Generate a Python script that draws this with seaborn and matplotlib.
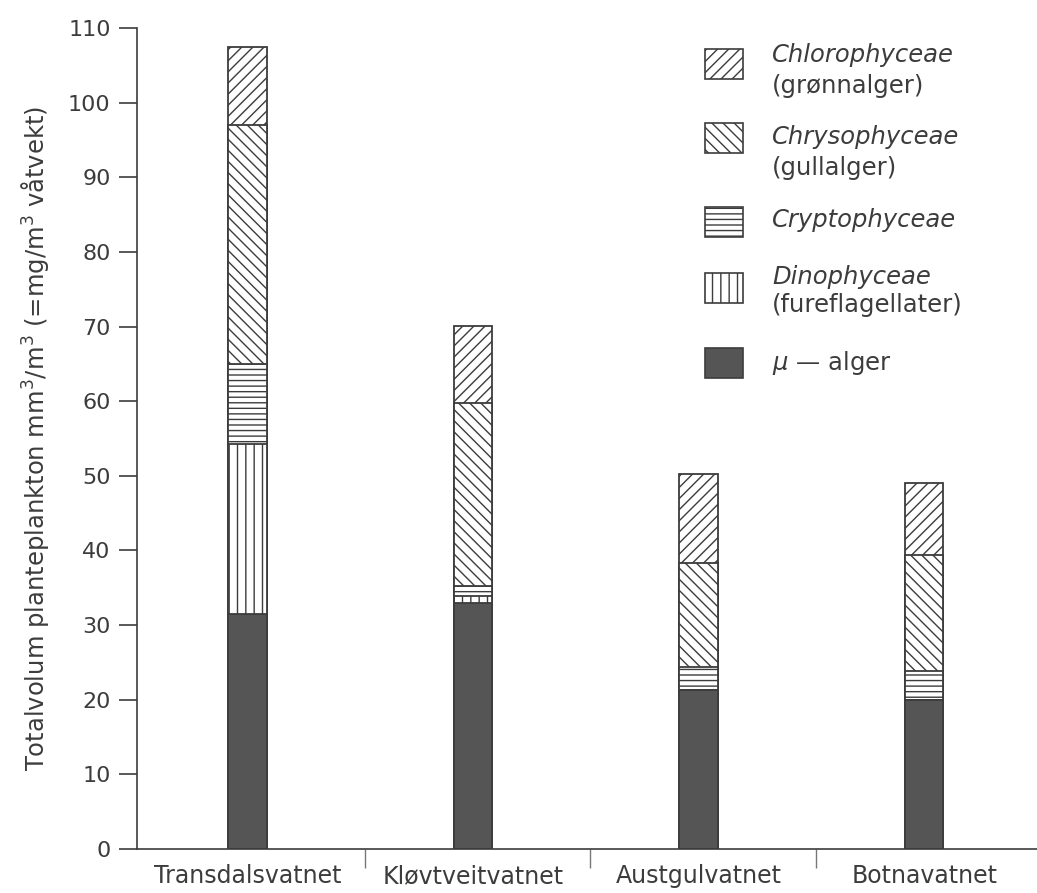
import numpy as np
import matplotlib
matplotlib.use("Agg")
import matplotlib.pyplot as plt
import matplotlib.patches as mpatches
import pandas as pd
import seaborn as sns

# data (mm3/m3)
lakes = ["Transdalsvatnet", "Kløvtveitvatnet", "Austgulvatnet", "Botnavatnet"]
mu_alger = [31.5, 32.9, 21.3, 19.9]
dinophyceae = [22.8, 1.0, 0.0, 0.0]
cryptophyceae = [10.7, 1.3, 3.1, 3.9]
chrysophyceae = [32.0, 24.5, 13.9, 15.6]
chlorophyceae = [10.4, 10.4, 11.9, 9.6]

yticks = list(range(0, 111, 10))

sns.set_style("ticks")
plt.rcParams['font.family'] = ['DejaVu Sans']
plt.rcParams['mathtext.fontset'] = 'dejavusans'
plt.rcParams['hatch.linewidth'] = 1.0

ink = "#3c3c3c"

fig = plt.figure(figsize=(10.37, 8.93), dpi=100)
ax = fig.add_axes([137/1037, 1 - 849/893, 1 - 137/1037, (849 - 28)/893])

df = pd.DataFrame({"lake": lakes, "mu": mu_alger, "dino": dinophyceae,
                   "crypto": cryptophyceae, "chryso": chrysophyceae,
                   "chloro": chlorophyceae})

# stacked bars: draw cumulative totals from the top layer down
layers = [("chloro", "white", "///"), ("chryso", "white", "\\\\\\"),
          ("crypto", "white", "---"), ("dino", "white", "||"),
          ("mu", "#555555", None)]
order = ["mu", "dino", "crypto", "chryso", "chloro"]
for name, fc, hatch in layers:
    upto = order[:order.index(name) + 1]
    df["cum"] = df[upto].sum(axis=1)
    sns.barplot(data=df, x="lake", y="cum", color=fc, saturation=1,
                width=0.17, edgecolor=ink, linewidth=1.3, hatch=hatch,
                errorbar=None, ax=ax)

ax.set_ylim(0, 110)
ax.set_xlim(-0.49, 3.5)
ax.set_yticks(yticks)
ax.tick_params(axis="y", direction="out", length=13, width=1.2, color=ink,
               labelsize=16, labelcolor=ink, pad=6)
ax.tick_params(axis="x", which="major", length=0, labelsize=17,
               labelcolor=ink, pad=11)
ax.set_xticks([0.52, 1.52, 2.52], minor=True)
ax.tick_params(axis="x", which="minor", direction="out", length=14,
               width=1.0, color="#777777")
ax.set_xlabel("")
ax.set_ylabel("Totalvolum planteplankton mm$^3$/m$^3$ (=mg/m$^3$ våtvekt)",
              fontsize=17.5, color=ink, labelpad=12)
sns.despine(ax=ax)
ax.spines["left"].set_color(ink)
ax.spines["bottom"].set_color(ink)
ax.spines["left"].set_linewidth(1.2)
ax.spines["bottom"].set_linewidth(1.2)

# legend drawn by hand to follow the original spacing (figure pixels)
H = 893
entries = [
    (dict(facecolor="white", hatch="///"), 64, [("Chlorophyceae", "italic", 55), ("(grønnalger)", "normal", 86)]),
    (dict(facecolor="white", hatch="\\\\\\"), 138, [("Chrysophyceae", "italic", 137), ("(gullalger)", "normal", 168)]),
    (dict(facecolor="white", hatch="---"), 222, [("Cryptophyceae", "italic", 220)]),
    (dict(facecolor="white", hatch="||"), 288, [("Dinophyceae", "italic", 277), ("(fureflagellater)", "normal", 305)]),
    (dict(facecolor="#555555", hatch=None), 363, [(r"$\mu$ — alger", "normal", 363)]),
]
for style, yc, lines in entries:
    p = mpatches.Rectangle((705/1037, 1 - (yc + 15)/H), 38/1037, 30/H,
                           transform=fig.transFigure, edgecolor=ink,
                           linewidth=1.2, **style)
    fig.patches.append(p)
    for txt, fs, yy in lines:
        fig.text(772/1037, 1 - yy/H, txt, fontsize=17.5, style=fs, color=ink,
                 va="center", ha="left")

fig.savefig("out.png", dpi=100)
